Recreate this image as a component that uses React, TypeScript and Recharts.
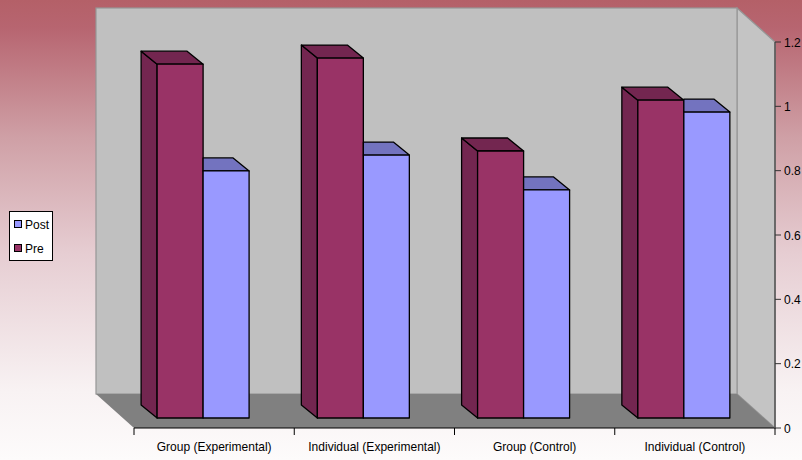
import { BarChart, Bar, XAxis, YAxis, Legend } from "recharts";

const categories = [
  "Group (Experimental)",
  "Individual (Experimental)",
  "Group (Control)",
  "Individual (Control)",
];
const preValues = [1.1, 1.119, 0.83, 0.988];
const postValues = [0.768, 0.8175, 0.709, 0.951];
const yTicks = [0, 0.2, 0.4, 0.6, 0.8, 1, 1.2];

const data = categories.map((name, i) => ({
  name,
  Pre: preValues[i],
  Post: postValues[i],
}));

const WIDTH = 802;
const HEIGHT = 460;
const FONT = "'Liberation Sans', Arial, sans-serif";
const TEXT_SQUEEZE = 0.925;

// plot box, and how far the back wall sits behind it
const LEFT = 134;
const RIGHT = 775;
const TOP = 42;
const BOTTOM = 428;
const WALL_DX = 38;
const WALL_DY = 34;

// bars stand part way into the floor
const BAR_SHIFT_X = 11.5;
const BAR_SHIFT_Y = 10;
const DEPTH_X = 16;
const DEPTH_Y = 13;

const pts = (list: number[][]) => list.map((p) => p.join(",")).join(" ");

const Room = () => (
  <g>
    <polygon
      points={pts([
        [RIGHT - WALL_DX, TOP - WALL_DY],
        [RIGHT, TOP],
        [RIGHT, BOTTOM],
        [RIGHT - WALL_DX, BOTTOM - WALL_DY],
      ])}
      fill="#C4C4C4"
      stroke="#969696"
      strokeWidth={1.2}
    />
    <rect
      x={LEFT - WALL_DX}
      y={TOP - WALL_DY}
      width={RIGHT - LEFT}
      height={BOTTOM - TOP}
      fill="#C0C0C0"
      stroke="#969696"
      strokeWidth={1.2}
    />
    <polygon
      points={pts([
        [LEFT - WALL_DX, BOTTOM - WALL_DY],
        [RIGHT - WALL_DX, BOTTOM - WALL_DY],
        [RIGHT, BOTTOM],
        [LEFT, BOTTOM],
      ])}
      fill="#808080"
    />
  </g>
);

// front face, top and left side of one bar
const Box = (props: any) => {
  const { x, y, width, height, front, dark, hideSide } = props;
  const fx = x - BAR_SHIFT_X;
  const fy = y - BAR_SHIFT_Y;
  const line = { stroke: "#000", strokeWidth: 1.3, strokeLinejoin: "round" as const };
  // a bar that sits right of its neighbour only shows the part of its top past that neighbour
  const topFace = hideSide
    ? [
        [fx, fy],
        [fx + width, fy],
        [fx + width - DEPTH_X, fy - DEPTH_Y],
        [fx, fy - DEPTH_Y],
      ]
    : [
        [fx, fy],
        [fx + width, fy],
        [fx + width - DEPTH_X, fy - DEPTH_Y],
        [fx - DEPTH_X, fy - DEPTH_Y],
      ];
  return (
    <g>
      {!hideSide && (
        <polygon
          points={pts([
            [fx, fy],
            [fx - DEPTH_X, fy - DEPTH_Y],
            [fx - DEPTH_X, fy + height - DEPTH_Y],
            [fx, fy + height],
          ])}
          fill={dark}
          {...line}
        />
      )}
      <polygon points={pts(topFace)} fill={dark} {...line} />
      <rect x={fx} y={fy} width={width} height={height} fill={front} {...line} />
    </g>
  );
};

// labels are centred in the band, tick marks go on the band edges
const CategoryTick = (props: any) => {
  const { x, y, payload, index } = props;
  const band = (RIGHT - LEFT) / categories.length;
  return (
    <g>
      <line x1={x - band / 2} x2={x - band / 2} y1={BOTTOM} y2={BOTTOM + 7} stroke="#000" />
      {index === categories.length - 1 && (
        <line x1={x + band / 2} x2={x + band / 2} y1={BOTTOM} y2={BOTTOM + 7} stroke="#000" />
      )}
      <text
        transform={`translate(${x},${y + 15}) scale(${TEXT_SQUEEZE},1)`}
        textAnchor="middle"
        fontSize={13}
        fontFamily={FONT}
        fill="#000"
      >
        {payload.value}
      </text>
    </g>
  );
};

const ValueTick = (props: any) => {
  const { x, y, payload } = props;
  return (
    <text
      transform={`translate(${x},${y + 4.5}) scale(${TEXT_SQUEEZE},1)`}
      fontSize={13}
      fontFamily={FONT}
      fill="#000"
    >
      {payload.value}
    </text>
  );
};

const LegendBox = () => (
  <div
    style={{
      width: 42,
      height: 48,
      background: "#fff",
      border: "1px solid #000",
      fontFamily: FONT,
      fontSize: 13,
      color: "#000",
      boxSizing: "content-box",
    }}
  >
    {[
      { label: "Post", color: "#9999FF" },
      { label: "Pre", color: "#993366" },
    ].map((item) => (
      <div
        key={item.label}
        style={{ display: "flex", alignItems: "center", height: 24, paddingLeft: 4 }}
      >
        <span
          style={{
            width: 6,
            height: 6,
            background: item.color,
            border: "1px solid #000",
            marginRight: 3,
          }}
        />
        <span style={{ display: "inline-block", transform: `scaleX(${TEXT_SQUEEZE})`, transformOrigin: "left" }}>
          {item.label}
        </span>
      </div>
    ))}
  </div>
);

export default function App() {
  return (
    <div
      style={{
        position: "absolute",
        left: 0,
        top: 0,
        width: WIDTH,
        height: HEIGHT,
        background:
          "linear-gradient(180deg, #B46068 0%, #B76570 6%, #CFA0A6 30%, #E6CDD2 55%, #F8F2F3 85%, #FDFBFB 100%)",
      }}
    >
      <BarChart
        width={WIDTH}
        height={HEIGHT}
        data={data}
        margin={{ top: TOP, right: 0, bottom: 0, left: LEFT }}
        barCategoryGap={34.6}
        barGap={0}
      >
        <Room />
        <XAxis
          dataKey="name"
          interval={0}
          height={HEIGHT - BOTTOM}
          tickLine={false}
          axisLine={{ stroke: "#000", strokeWidth: 1.2 }}
          tick={<CategoryTick />}
        />
        <YAxis
          orientation="right"
          width={WIDTH - RIGHT}
          domain={[0, 1.2]}
          ticks={yTicks}
          tickSize={6}
          tickMargin={3}
          axisLine={{ stroke: "#555", strokeWidth: 1.5 }}
          tickLine={{ stroke: "#333" }}
          tick={<ValueTick />}
        />
        <Bar
          dataKey="Pre"
          isAnimationActive={false}
          fill="#993366"
          shape={<Box front="#993366" dark="#732650" />}
        />
        <Bar
          dataKey="Post"
          isAnimationActive={false}
          fill="#9999FF"
          shape={<Box front="#9999FF" dark="#7373BF" hideSide />}
        />
        <Legend
          layout="horizontal"
          verticalAlign="middle"
          content={<LegendBox />}
          wrapperStyle={{ left: 9, top: 211, width: 44, bottom: "auto" }}
        />
      </BarChart>
    </div>
  );
}
